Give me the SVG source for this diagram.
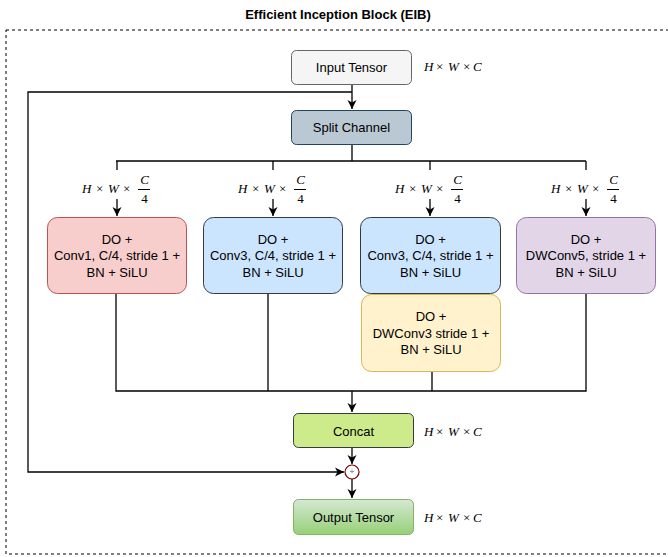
<svg xmlns="http://www.w3.org/2000/svg" width="668" height="557" viewBox="0 0 668 557">
<defs>
<marker id="arr" markerUnits="userSpaceOnUse" markerWidth="10" markerHeight="10" refX="9" refY="5" orient="auto">
<path d="M0,0.5 L9,5 L0,9.5 L2.5,5 z" fill="#000"/>
</marker>
<linearGradient id="gOut" x1="0" y1="0" x2="0" y2="1">
<stop offset="0" stop-color="#d5e8d4"/>
<stop offset="1" stop-color="#97d077"/>
</linearGradient>
<style>
.t{font-family:"Liberation Sans",Arial,sans-serif;font-size:13px;fill:#000;text-anchor:middle}
.m{font-family:"Liberation Serif","DejaVu Serif",serif;font-size:13px;fill:#000}
.mi{font-style:italic}
.e{fill:none;stroke:#000;stroke-width:1.3}
.ea{fill:none;stroke:#000;stroke-width:1.3;marker-end:url(#arr)}
</style>
</defs>
<rect width="668" height="557" fill="#fff"/>
<text x="338" y="19" class="t" style="font-weight:bold">Efficient Inception Block (EIB)</text>
<rect x="6" y="30" width="680" height="524" fill="none" stroke="#000" stroke-width="1" stroke-dasharray="3 3"/>

<g id="connectors">
<path class="ea" d="M352,84 V109"/>
<path class="ea" d="M352,92 H28 V472 H344"/>
<path class="e" d="M352,144 V161 M116,161 H586"/>
<path class="e" d="M117,161 V170 M273,161 V170 M430,161 V170 M586,161 V170"/>
<path class="ea" d="M117,199 V216"/>
<path class="ea" d="M273,199 V216"/>
<path class="ea" d="M430,199 V216"/>
<path class="ea" d="M586,199 V216"/>
<path class="e" d="M116,293 V391 H586 V293 M268,293 V391 M432,371 V391"/>
<path class="ea" d="M352,391 V412"/>
<path class="ea" d="M352,448 V464"/>
<path class="ea" d="M352,479 V498"/>
</g>

<g id="input">
<rect x="291.5" y="50.5" width="120" height="34" rx="5" fill="#f5f5f5" stroke="#666"/>
<text x="351.5" y="72" class="t">Input Tensor</text>
</g>
<g id="split">
<rect x="291.5" y="110.5" width="120" height="34" rx="5" fill="#bac8d3" stroke="#23445d"/>
<text x="351.5" y="132" class="t">Split Channel</text>
</g>
<g id="b1">
<rect x="47.5" y="217.5" width="139" height="76" rx="10" fill="#f8cecc" stroke="#b85450"/>
<text class="t"><tspan x="117" y="244">DO +</tspan><tspan x="117" y="260">Conv1, C/4, stride 1 +</tspan><tspan x="117" y="277">BN + SiLU</tspan></text>
</g>
<g id="b2">
<rect x="203.5" y="217.5" width="139" height="76" rx="10" fill="#cce5ff" stroke="#36393d"/>
<text class="t"><tspan x="273" y="244">DO +</tspan><tspan x="273" y="260">Conv3, C/4, stride 1 +</tspan><tspan x="273" y="277">BN + SiLU</tspan></text>
</g>
<g id="b3">
<rect x="360.5" y="217.5" width="140" height="76" rx="10" fill="#cce5ff" stroke="#36393d"/>
<text class="t"><tspan x="430.5" y="244">DO +</tspan><tspan x="430.5" y="260">Conv3, C/4, stride 1 +</tspan><tspan x="430.5" y="277">BN + SiLU</tspan></text>
</g>
<g id="b3b">
<rect x="361.5" y="294.5" width="139" height="77" rx="10" fill="#fff2cc" stroke="#d6b656"/>
<text class="t"><tspan x="431" y="321">DO +</tspan><tspan x="431" y="338">DWConv3 stride 1 +</tspan><tspan x="431" y="354">BN + SiLU</tspan></text>
</g>
<g id="b4">
<rect x="516.5" y="217.5" width="139" height="76" rx="10" fill="#e1d5e7" stroke="#9673a6"/>
<text class="t"><tspan x="586" y="244">DO +</tspan><tspan x="586" y="260">DWConv5, stride 1 +</tspan><tspan x="586" y="277">BN + SiLU</tspan></text>
</g>
<g id="concat">
<rect x="293.5" y="413.5" width="120" height="34" rx="5" fill="#cdeb8b" stroke="#36393d"/>
<text x="353.5" y="436" class="t">Concat</text>
</g>
<g id="sum">
<circle cx="352" cy="472" r="7" fill="#fff" stroke="#6f0000" stroke-width="1.2"/>
<path d="M350,471.5 H354 M352,469.5 V473.5" stroke="#999" stroke-width="1"/>
</g>
<g id="output">
<rect x="293.5" y="499.5" width="120" height="35" rx="5" fill="url(#gOut)" stroke="#82b366"/>
<text x="353.5" y="522" class="t">Output Tensor</text>
</g>

<g id="labels">
<text class="m" y="71"><tspan class="mi" x="424">H</tspan><tspan x="436">×</tspan><tspan class="mi" x="448">W</tspan><tspan x="463">×</tspan><tspan class="mi" x="473">C</tspan></text>
<text class="m" y="436"><tspan class="mi" x="424">H</tspan><tspan x="436">×</tspan><tspan class="mi" x="448">W</tspan><tspan x="463">×</tspan><tspan class="mi" x="473">C</tspan></text>
<text class="m" y="522"><tspan class="mi" x="424">H</tspan><tspan x="436">×</tspan><tspan class="mi" x="448">W</tspan><tspan x="463">×</tspan><tspan class="mi" x="473">C</tspan></text>
<g id="lf1" transform="translate(117,0)">
<text class="m" y="193"><tspan class="mi" x="-35">H</tspan><tspan x="-21">×</tspan><tspan class="mi" x="-9">W</tspan><tspan x="6">×</tspan></text>
<text class="m mi" x="27.5" y="184" text-anchor="middle">C</text>
<path d="M21,189.5 H33" stroke="#000" stroke-width="1"/>
<text class="m" x="27.5" y="203" text-anchor="middle">4</text>
</g>
<g id="lf2" transform="translate(273,0)">
<text class="m" y="193"><tspan class="mi" x="-35">H</tspan><tspan x="-21">×</tspan><tspan class="mi" x="-9">W</tspan><tspan x="6">×</tspan></text>
<text class="m mi" x="27.5" y="184" text-anchor="middle">C</text>
<path d="M21,189.5 H33" stroke="#000" stroke-width="1"/>
<text class="m" x="27.5" y="203" text-anchor="middle">4</text>
</g>
<g id="lf3" transform="translate(430,0)">
<text class="m" y="193"><tspan class="mi" x="-35">H</tspan><tspan x="-21">×</tspan><tspan class="mi" x="-9">W</tspan><tspan x="6">×</tspan></text>
<text class="m mi" x="27.5" y="184" text-anchor="middle">C</text>
<path d="M21,189.5 H33" stroke="#000" stroke-width="1"/>
<text class="m" x="27.5" y="203" text-anchor="middle">4</text>
</g>
<g id="lf4" transform="translate(586,0)">
<text class="m" y="193"><tspan class="mi" x="-35">H</tspan><tspan x="-21">×</tspan><tspan class="mi" x="-9">W</tspan><tspan x="6">×</tspan></text>
<text class="m mi" x="27.5" y="184" text-anchor="middle">C</text>
<path d="M21,189.5 H33" stroke="#000" stroke-width="1"/>
<text class="m" x="27.5" y="203" text-anchor="middle">4</text>
</g>
</g>
</svg>
